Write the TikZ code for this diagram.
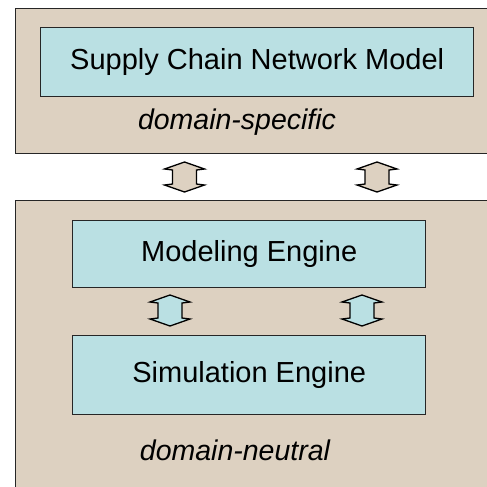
\documentclass[tikz,border=0pt]{standalone}
\usepackage{fontspec}
\setmainfont{Liberation Sans}
\definecolor{tanbg}{RGB}{221,209,193}
\definecolor{cyanbox}{RGB}{186,224,227}
\tikzset{
  layer/.style={draw=black!85, line width=1.4pt, fill=tanbg, inner sep=0pt},
  module/.style={draw=black!85, line width=1.4pt, fill=cyanbox, inner sep=0pt,
    font=\fontsize{29}{34}\selectfont},
  caption/.style={font=\fontsize{28.5}{34}\selectfont\itshape, anchor=base},
  flow/.style={draw=black, line width=1.3pt, line join=miter},
}
% vertical two-headed block arrow: #1 fill, #2 centre x, #3 top y, #4 bottom y
\newcommand\biarrow[4]{%
  \draw[flow, fill=#1] (#2,#3) -- (#2+20,#3+7) -- (#2+12,#3+8) -- (#2+12,#4-8)
    -- (#2+20,#4-7) -- (#2,#4) -- (#2-20,#4-7) -- (#2-12,#4-8)
    -- (#2-12,#3+8) -- (#2-20,#3+7) -- cycle;}
\begin{document}
\begin{tikzpicture}[x=1pt, y=-1pt]
  \useasboundingbox (0,0) rectangle (487,487);
  \clip (0,0) rectangle (487,487);
  \fill[white] (0,0) rectangle (487,487);

  % domain-specific layer
  \node[layer, anchor=north west, minimum width=490pt, minimum height=145pt]
    (specific) at (15,8) {};
  \node[module, anchor=north west, minimum width=433pt, minimum height=69pt]
    (scn) at (40,27) {Supply Chain Network Model};
  \node[caption] (speclabel) at (237,129) {domain-specific};

  % domain-neutral layer
  \node[layer, anchor=north west, minimum width=490pt, minimum height=300pt]
    (neutral) at (15,200) {};
  \node[module, anchor=north west, minimum width=353pt, minimum height=67pt]
    (modeling) at (72,220) {Modeling Engine};
  \node[module, anchor=north west, minimum width=353pt, minimum height=79pt]
    (simulation) at (72,335) {Simulation Engine};
  \node[caption] (neutlabel) at (235,460) {domain-neutral};

  % links between the layers
  \biarrow{tanbg}{184.5}{162}{192}
  \biarrow{tanbg}{377}{162}{192}
  % links between the engines
  \biarrow{cyanbox}{170}{295}{326}
  \biarrow{cyanbox}{362}{295}{326}
\end{tikzpicture}
\end{document}
